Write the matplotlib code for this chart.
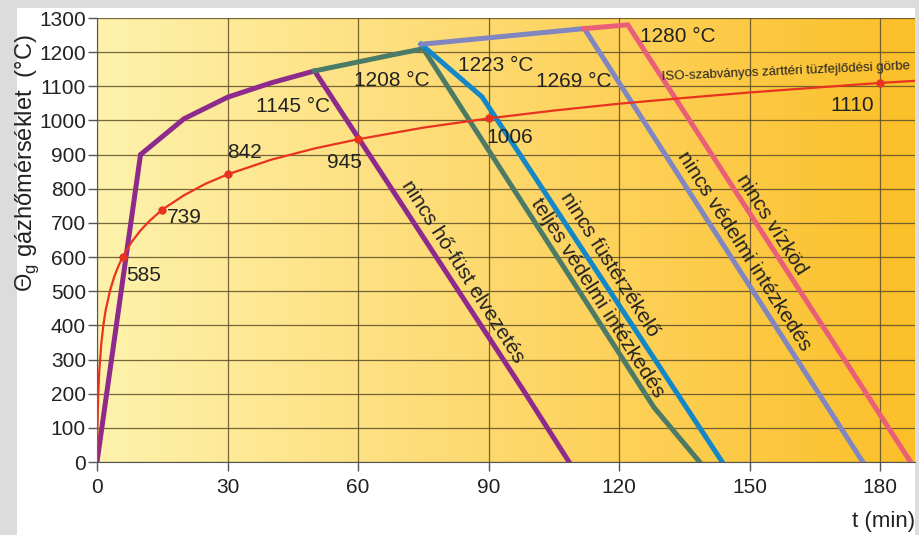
import numpy as np
import matplotlib
matplotlib.use('Agg')
import matplotlib.pyplot as plt
from matplotlib.colors import LinearSegmentedColormap
from matplotlib.patches import Rectangle

plt.rcParams['font.family'] = ['Liberation Sans', 'DejaVu Sans']
plt.rcParams['mathtext.fontset'] = 'custom'
plt.rcParams['mathtext.rm'] = 'Liberation Sans'

# ISO 834 standard fire curve
iso_t = [0, 0.1, 0.25, 0.5, 1, 1.5, 2, 3, 4, 5, 6, 8, 10, 12, 15, 20, 25, 30, 40, 50,
         60, 75, 90, 105, 120, 135, 150, 165, 180, 188]
iso_T = [0, 108, 185, 261, 349, 404, 445, 502, 544, 576, 603, 645, 678, 705, 739, 781, 815,
         842, 885, 918, 945, 979, 1006, 1029, 1049, 1066, 1082, 1096, 1110, 1116]
mark_t = [6, 15, 30, 60, 90, 180]
mark_T = [600, 739, 842, 945, 1006, 1110]
mark_lbl = ['585', '739', '842', '945', '1006', '1110']

# fire scenarios
purple_t = [0, 10, 20, 30, 40, 50, 98, 108.5]
purple_T = [0, 900, 1005, 1068, 1110, 1145, 210, 0]
green_t = [50, 69, 75, 128, 138.5]
green_T = [1145, 1195, 1210, 160, 0]
blue_t = [74.5, 88.5, 143.7]
blue_T = [1223, 1069, 0]
lav_t = [74.5, 112, 176]
lav_T = [1223, 1269, 0]
pink_t = [112, 122, 187]
pink_T = [1269, 1280, 0]

peak_lbl = ['1145 °C', '1208 °C', '1223 °C', '1269 °C', '1280 °C']

W, H = 919, 535
fig = plt.figure(figsize=(W / 100, H / 100), dpi=100, facecolor='#dcdcdc')
fig.patches.append(Rectangle((17 / W, 0), (915 - 17) / W, (H - 8) / H,
                             transform=fig.transFigure, facecolor='white',
                             edgecolor='none', zorder=-5))
ax = fig.add_axes([97 / W, (H - 462) / H, (915 - 97) / W, 444 / H], zorder=2)
ax.set_xlim(0, 188)
ax.set_ylim(0, 1300)

cmap = LinearSegmentedColormap.from_list('bg', ['#fdf2ac', '#fed86c', '#fbbf28'])
ax.imshow(np.linspace(0, 1, 256).reshape(1, -1), cmap=cmap, aspect='auto',
          extent=[0, 188, 0, 1300], zorder=0)

ax.set_xticks(range(0, 181, 30))
ax.set_yticks(range(0, 1301, 100))
ax.grid(True, color='#5e4e28', linewidth=0.9, alpha=0.85, zorder=1)
for s in ['top', 'right']:
    ax.spines[s].set_visible(False)
for s in ['left', 'bottom']:
    ax.spines[s].set_color('#555555')
ax.tick_params(direction='out', length=6.5, width=1, color='#555555',
               labelsize=15, labelcolor='#222222')
ax.tick_params(axis='y', pad=1.5)
ax.tick_params(axis='x', pad=5)

lw = 3.6
ax.plot(purple_t, purple_T, color='#8e2a8c', lw=lw, solid_joinstyle='miter', zorder=3)
ax.plot(green_t, green_T, color='#4b7b66', lw=lw, solid_joinstyle='miter', zorder=3)
ax.plot(blue_t, blue_T, color='#1487c6', lw=lw, solid_joinstyle='miter', zorder=3)
ax.plot(lav_t, lav_T, color='#7f86c0', lw=lw, solid_joinstyle='miter', zorder=3)
ax.plot(pink_t, pink_T, color='#ea5f78', lw=lw, solid_joinstyle='miter', zorder=3)
ax.plot(iso_t, iso_T, color='#e8331f', lw=1.6, zorder=4)
ax.plot(mark_t, mark_T, 'o', color='#e8331f', ms=5, zorder=5)

fs = 15
tc = '#222222'
val_pos = [(10.6, 545), (20.0, 717), (33.8, 905), (56.8, 878), (94.9, 949), (173.5, 1045)]
for (x, y), s in zip(val_pos, mark_lbl):
    ax.text(x, y, s, fontsize=fs, color=tc, ha='center', va='center', zorder=6)

peak_pos = [(45.0, 1042), (67.8, 1116), (91.7, 1160), (109.6, 1113), (133.5, 1245)]
for (x, y), s in zip(peak_pos, peak_lbl):
    ax.text(x, y, s, fontsize=fs, color=tc, ha='center', va='center', zorder=6)

rot = -57.5
ax.text(84.1, 556, 'nincs hő-füst elvezetés', rotation=rot, fontsize=fs, color=tc,
        ha='center', va='center', rotation_mode='anchor', zorder=6)
ax.text(117.9, 577, 'nincs füstérzékelő', rotation=rot, fontsize=fs, color=tc,
        ha='center', va='center', rotation_mode='anchor', zorder=6)
ax.text(115.1, 480, 'teljes védelmi intézkedés', rotation=rot, fontsize=fs, color=tc,
        ha='center', va='center', rotation_mode='anchor', zorder=6)
ax.text(148.7, 618, 'nincs védelmi intézkedés', rotation=rot, fontsize=fs, color=tc,
        ha='center', va='center', rotation_mode='anchor', zorder=6)
ax.text(155.1, 694, 'nincs vízköd', rotation=rot, fontsize=fs, color=tc,
        ha='center', va='center', rotation_mode='anchor', zorder=6)
ax.text(158.4, 1142, 'ISO-szabványos zárttéri tüzfejlődési görbe', rotation=2.5,
        fontsize=9.5, color=tc, ha='center', va='center', rotation_mode='anchor', zorder=6)

fig.text(27 / W, 1 - 163 / H, 'Θ$_\\mathrm{g}$ gázhőmérséklet  (°C)', rotation=90,
         fontsize=17, color=tc, ha='center', va='center')
fig.text(915 / W, 1 - 522 / H, 't (min)', fontsize=16, color=tc, ha='right', va='center')

fig.savefig('out.png', dpi=100, facecolor=fig.get_facecolor())
